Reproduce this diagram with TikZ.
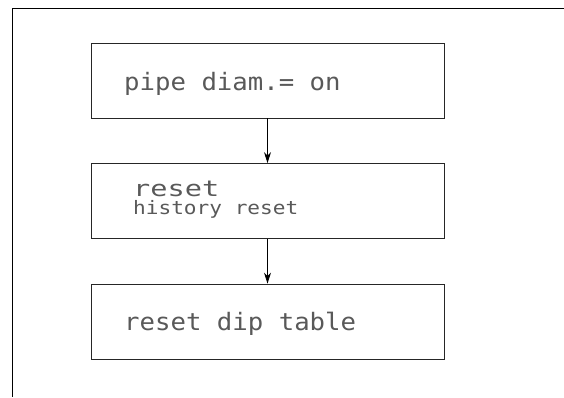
\documentclass[tikz,border=0pt]{standalone}
\usepackage{fontspec}
\newfontfamily\lcdfont[FakeStretch=1.07]{DejaVu Sans Mono}
\newfontfamily\lcdwide[FakeStretch=1.3]{DejaVu Sans Mono}
\newfontfamily\lcdsmall[FakeStretch=1.14]{DejaVu Sans Mono}
\usetikzlibrary{arrows.meta,positioning}
\tikzset{
  stepbox/.style={draw=black!85, line width=0.8pt, rectangle, minimum width=353pt, minimum height=75pt, inner sep=0pt},
  lcd/.style={text=black!65, inner sep=0pt, anchor=base west},
  flow/.style={draw=black, line width=0.8pt, -{Stealth[length=11pt,width=7pt]}}
}
\begin{document}
\begin{tikzpicture}[x=1pt, y=-1pt]
            \useasboundingbox (0,0) rectangle (564,397);
            % frame
            \draw[line width=1pt] (564,8) -- (12,8) -- (12,397);

            % three display boxes
            \node[stepbox] (pipe) at (267.5,80.5) {};
            \node[stepbox] (hist) at (267.5,201) {};
            \node[stepbox] (dip) at (267.5,321.5) {};

            % display texts
            \node[lcd] (pipetxt) at (124,90) {\lcdfont\fontsize{24}{28}\selectfont pipe diam.= on};
            \node[lcd, anchor=north west, align=left, font=\lcdsmall\fontsize{18.5}{18}\selectfont] (histtxt) at (133,181)
              {{\lcdwide\fontsize{22}{18}\selectfont reset}\\history reset};
            \node[lcd] (diptxt) at (124,330) {\lcdfont\fontsize{24}{28}\selectfont reset dip table};

            % arrows
            \draw[flow] (pipe) -- (hist);
            \draw[flow] (hist) -- (dip);
        \end{tikzpicture}
\end{document}
